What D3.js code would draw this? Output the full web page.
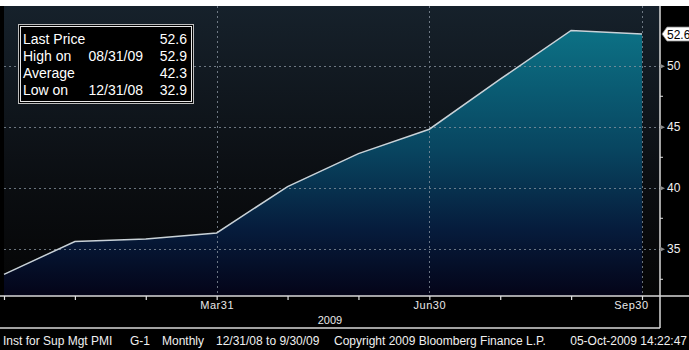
<!DOCTYPE html>
<html>
<head>
<meta charset="utf-8">
<script src="https://cdn.jsdelivr.net/npm/d3@7"></script>
<style>
  html, body { margin: 0; padding: 0; background: #000; }
  svg { display: block; }
  text { font-family: "Liberation Sans", Arial, sans-serif; }
</style>
</head>
<body>
<svg id="chart" width="689" height="350"></svg>
<script>
// ISM Manufacturing PMI, monthly, Dec 2008 – Sep 2009
const months = ["2008-12-31", "2009-01-31", "2009-02-28", "2009-03-31", "2009-04-30",
                "2009-05-31", "2009-06-30", "2009-07-31", "2009-08-31", "2009-09-30"];
const pmi = [32.9, 35.6, 35.8, 36.3, 40.1, 42.8, 44.8, 48.9, 52.9, 52.6];
const majorTicks = [35, 40, 45, 50];
const minorTicks = [32.5, 37.5, 42.5, 47.5];
const dateLabels = { "2009-03-31": "Mar31", "2009-06-30": "Jun30", "2009-09-30": "Sep30" };
const statsRows = [
  ["Last Price", "", "52.6"],
  ["High on", "08/31/09", "52.9"],
  ["Average", "", "42.3"],
  ["Low on", "12/31/08", "32.9"]
];
const footerParts = [
  ["Inst for Sup Mgt PMI", 3, "start"],
  ["G-1", 130, "start"],
  ["Monthly", 162, "start"],
  ["12/31/08 to 9/30/09", 216, "start"],
  ["Copyright 2009 Bloomberg Finance L.P.", 334, "start"],
  ["05-Oct-2009 14:22:47", 687, "end"]
];

const svg = d3.select("#chart");
const W = 689, H = 350;
const plot = { left: 4, right: 660, top: 6, bottom: 296 };

// white strip above the plot
svg.append("rect").attr("x", 0).attr("y", 0).attr("width", W).attr("height", plot.top).attr("fill", "#ffffff");

const x = d3.scalePoint().domain(months).range([plot.left, 642]);
const y = d3.scaleLinear().domain([31.13, 54.9]).range([plot.bottom, plot.top]);

const defs = svg.append("defs");
const bg = defs.append("linearGradient").attr("id", "bgGrad").attr("x1", 0).attr("y1", 0).attr("x2", 0).attr("y2", 1);
bg.append("stop").attr("offset", "0%").attr("stop-color", "#16212b");
bg.append("stop").attr("offset", "60%").attr("stop-color", "#0b0e12");
bg.append("stop").attr("offset", "100%").attr("stop-color", "#050505");

const fillGrad = defs.append("linearGradient").attr("id", "areaGrad")
  .attr("gradientUnits", "userSpaceOnUse")
  .attr("x1", 0).attr("y1", y(52.9)).attr("x2", 0).attr("y2", plot.bottom);
fillGrad.append("stop").attr("offset", "0%").attr("stop-color", "#0c7185");
fillGrad.append("stop").attr("offset", "45%").attr("stop-color", "#084560");
fillGrad.append("stop").attr("offset", "75%").attr("stop-color", "#061c3c");
fillGrad.append("stop").attr("offset", "100%").attr("stop-color", "#040418");

// plot background
svg.append("rect").attr("x", plot.left).attr("y", plot.top)
  .attr("width", plot.right - plot.left).attr("height", plot.bottom - plot.top)
  .attr("fill", "url(#bgGrad)");

// filled area under the series
const area = d3.area().x((d, i) => x(months[i])).y0(plot.bottom).y1(d => y(d));
svg.append("path").datum(pmi).attr("d", area).attr("fill", "url(#areaGrad)");

// dotted grid
const grid = svg.append("g").attr("stroke", "#8c97a3").attr("stroke-width", 1)
  .attr("stroke-dasharray", "2,3").attr("opacity", 0.75);
majorTicks.forEach(v => {
  grid.append("line").attr("x1", plot.left).attr("x2", plot.right)
    .attr("y1", Math.round(y(v)) + 0.5).attr("y2", Math.round(y(v)) + 0.5);
});
Object.keys(dateLabels).forEach(m => {
  grid.append("line").attr("x1", Math.round(x(m)) + 0.5).attr("x2", Math.round(x(m)) + 0.5)
    .attr("y1", plot.top).attr("y2", plot.bottom);
});

// series line
const line = d3.line().x((d, i) => x(months[i])).y(d => y(d));
svg.append("path").datum(pmi).attr("d", line).attr("fill", "none")
  .attr("stroke", "#c9d2d8").attr("stroke-width", 1.5);

// axis frame
const frame = svg.append("g").attr("stroke", "#d8d8d8").attr("stroke-width", 1.5).attr("fill", "none");
frame.append("line").attr("x1", 0).attr("x2", W).attr("y1", plot.bottom).attr("y2", plot.bottom);
frame.append("line").attr("x1", plot.right).attr("x2", plot.right).attr("y1", plot.top).attr("y2", 328);
frame.append("line").attr("x1", 0).attr("x2", plot.right).attr("y1", 328).attr("y2", 328);

// x-axis tick marks and date labels
const xAxis = d3.axisBottom(x).tickSize(4).tickFormat(d => dateLabels[d] || "");
const gx = svg.append("g").attr("transform", `translate(0,${plot.bottom})`).call(xAxis);
gx.select(".domain").remove();
gx.selectAll(".tick line").attr("stroke", "#e0e0e0").attr("stroke-width", 1.2);
gx.selectAll(".tick text").attr("fill", "#e8e8e8").attr("font-size", 11)
  .attr("y", 5).attr("dy", "0.71em").style("letter-spacing", "0.5px");
// last label is pulled inside the frame
gx.selectAll(".tick").filter(d => d === months[months.length - 1]).select("text")
  .attr("text-anchor", "end").attr("x", 6);
svg.append("text").attr("x", 330).attr("y", 324).attr("text-anchor", "middle")
  .attr("fill", "#e8e8e8").attr("font-size", 11).text("2009");

// right value axis
const yAxis = d3.axisRight(y).tickValues(majorTicks).tickSize(0).tickPadding(7).tickFormat(d3.format("d"));
const gy = svg.append("g").attr("transform", `translate(${plot.right},0)`).call(yAxis);
gy.select(".domain").remove();
gy.selectAll(".tick text").attr("fill", "#f0f0f0").attr("font-size", 12);
gy.selectAll(".tick").append("path").attr("d", "M0,-2.5L5,0L0,2.5Z").attr("fill", "#8a8a8a");
minorTicks.forEach(v => {
  svg.append("line").attr("x1", plot.right).attr("x2", plot.right + 3)
    .attr("y1", y(v)).attr("y2", y(v)).attr("stroke", "#e0e0e0").attr("stroke-width", 1);
});

// last price tag
const lastY = y(pmi[pmi.length - 1]);
svg.append("path")
  .attr("d", `M${plot.right + 2},${lastY} L${plot.right + 7},${lastY - 7} H${W + 2} V${lastY + 7} H${plot.right + 7} Z`)
  .attr("fill", "#ffffff").attr("stroke", "#888").attr("stroke-width", 0.8);
svg.append("text").attr("x", plot.right + 7).attr("y", lastY + 4.5).attr("fill", "#000")
  .attr("font-size", 12).text(d3.format(".1f")(pmi[pmi.length - 1]));

// statistics box
const box = svg.append("g");
box.append("rect").attr("x", 18.5).attr("y", 24.5).attr("width", 175).attr("height", 79)
  .attr("fill", "#000").attr("stroke", "#bdbdbd").attr("stroke-width", 1);
box.append("rect").attr("x", 20.5).attr("y", 26.5).attr("width", 171).attr("height", 75)
  .attr("fill", "none").attr("stroke", "#e6e6e6").attr("stroke-width", 1);
statsRows.forEach((r, i) => {
  const ty = 44 + i * 17;
  box.append("text").attr("x", 23).attr("y", ty).attr("fill", "#fff").attr("font-size", 14).text(r[0]);
  if (r[1]) box.append("text").attr("x", 143).attr("y", ty).attr("text-anchor", "end")
    .attr("fill", "#fff").attr("font-size", 14).text(r[1]);
  box.append("text").attr("x", 187).attr("y", ty).attr("text-anchor", "end")
    .attr("fill", "#fff").attr("font-size", 14).text(r[2]);
});

// footer line
footerParts.forEach(([t, fx, anchor]) => {
  svg.append("text").attr("x", fx).attr("y", 345).attr("fill", "#f0f0f0")
    .attr("text-anchor", anchor).attr("font-size", 12).text(t);
});
</script>
</body>
</html>
